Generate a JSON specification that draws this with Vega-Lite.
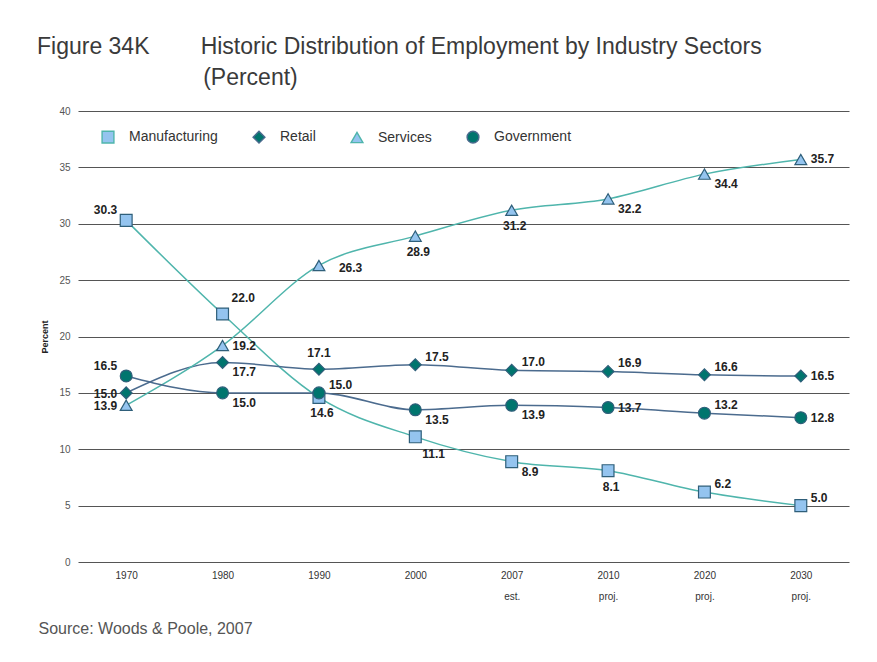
{
  "$schema": "https://vega.github.io/schema/vega-lite/v6.json",
  "autosize": "none",
  "width": 771,
  "height": 451,
  "padding": {"left": 78, "top": 111, "right": 28, "bottom": 100},
  "background": "white",
  "config": {
    "font": "Liberation Sans",
    "view": {"stroke": null},
    "legend": {
      "orient": "none", "legendX": 23, "legendY": 19,
      "direction": "horizontal", "columns": 4, "title": null,
      "symbolSize": 140, "symbolStrokeWidth": 1.4, "symbolOpacity": 1,
      "labelFont": "Liberation Sans", "labelFontSize": 14, "labelColor": "#333333",
      "labelOffset": 14, "columnPadding": 32
    }
  },
  "title": {
    "text": ["Figure 34K\u00a0\u00a0\u00a0\u00a0\u00a0\u00a0\u00a0\u00a0Historic Distribution of Employment by Industry Sectors", "\u200b\u00a0\u00a0\u00a0\u00a0\u00a0\u00a0\u00a0\u00a0\u00a0\u00a0\u00a0\u00a0\u00a0\u00a0\u00a0\u00a0\u00a0\u00a0\u00a0\u00a0\u00a0\u00a0\u00a0\u00a0\u00a0\u00a0(Percent)"],
    "anchor": "start",
    "frame": "group",
    "dx": -41,
    "offset": 16,
    "font": "Liberation Sans",
    "fontSize": 23,
    "fontWeight": "normal",
    "color": "#3a3a3a",
    "lineHeight": 31
  },
  "data": {
    "values": [
      {"series": "Manufacturing", "period": "1970", "value": 30.3},
      {"series": "Manufacturing", "period": "1980", "value": 22.0},
      {"series": "Manufacturing", "period": "1990", "value": 14.6},
      {"series": "Manufacturing", "period": "2000", "value": 11.1},
      {"series": "Manufacturing", "period": "2007 est.", "value": 8.9},
      {"series": "Manufacturing", "period": "2010 proj.", "value": 8.1},
      {"series": "Manufacturing", "period": "2020 proj.", "value": 6.2},
      {"series": "Manufacturing", "period": "2030 proj.", "value": 5.0},
      {"series": "Retail", "period": "1970", "value": 15.0},
      {"series": "Retail", "period": "1980", "value": 17.7},
      {"series": "Retail", "period": "1990", "value": 17.1},
      {"series": "Retail", "period": "2000", "value": 17.5},
      {"series": "Retail", "period": "2007 est.", "value": 17.0},
      {"series": "Retail", "period": "2010 proj.", "value": 16.9},
      {"series": "Retail", "period": "2020 proj.", "value": 16.6},
      {"series": "Retail", "period": "2030 proj.", "value": 16.5},
      {"series": "Services", "period": "1970", "value": 13.9},
      {"series": "Services", "period": "1980", "value": 19.2},
      {"series": "Services", "period": "1990", "value": 26.3},
      {"series": "Services", "period": "2000", "value": 28.9},
      {"series": "Services", "period": "2007 est.", "value": 31.2},
      {"series": "Services", "period": "2010 proj.", "value": 32.2},
      {"series": "Services", "period": "2020 proj.", "value": 34.4},
      {"series": "Services", "period": "2030 proj.", "value": 35.7},
      {"series": "Government", "period": "1970", "value": 16.5},
      {"series": "Government", "period": "1980", "value": 15.0},
      {"series": "Government", "period": "1990", "value": 15.0},
      {"series": "Government", "period": "2000", "value": 13.5},
      {"series": "Government", "period": "2007 est.", "value": 13.9},
      {"series": "Government", "period": "2010 proj.", "value": 13.7},
      {"series": "Government", "period": "2020 proj.", "value": 13.2},
      {"series": "Government", "period": "2030 proj.", "value": 12.8}
    ]
  },
  "encoding": {
    "x": {
      "field": "period", "type": "ordinal", "sort": null,
      "scale": {"type": "point", "padding": 0.5},
      "axis": {
        "labelExpr": "split(datum.label, ' ')",
        "labelAngle": 0,
        "labelFont": "Liberation Sans",
        "labelFontSize": 10,
        "labelColor": "#333333",
        "labelLineHeight": 21,
        "labelPadding": 8,
        "domain": false, "ticks": false, "grid": false,
        "title": "Source: Woods & Poole, 2007",
        "titleAnchor": "start", "titleAlign": "left",
        "titleX": -40, "titleY": 66, "titleBaseline": "middle",
        "titleFont": "Liberation Sans", "titleFontSize": 16,
        "titleFontWeight": "normal", "titleColor": "#555555"
      }
    },
    "y": {
      "field": "value", "type": "quantitative",
      "scale": {"domain": [0, 40], "nice": false},
      "axis": {
        "values": [0, 5, 10, 15, 20, 25, 30, 35, 40],
        "title": "Percent",
        "titleFont": "Liberation Sans", "titleFontSize": 9, "titleFontWeight": "bold", "titleColor": "#222222",
        "titlePadding": 9,
        "labelFontSize": 10, "labelColor": "#555555", "labelPadding": 8,
        "domain": false, "ticks": false,
        "grid": true, "gridColor": "#555555", "gridWidth": 1.1, "gridOpacity": 1
      }
    }
  },
  "layer": [
    {
      "mark": {"type": "line", "interpolate": "monotone", "strokeWidth": 1.5},
      "encoding": {
        "stroke": {
          "field": "series", "type": "nominal",
          "scale": {"domain": ["Manufacturing", "Retail", "Services", "Government"], "range": ["#4fb5ac", "#4b6b8e", "#4fb5ac", "#4b6b8e"]}
        }
      }
    },
    {
      "mark": {"type": "point", "filled": true, "opacity": 1, "stroke": "#2f5f7a", "strokeWidth": 1.2, "size": 140},
      "encoding": {
        "shape": {
          "field": "series", "type": "nominal",
          "scale": {"domain": ["Manufacturing", "Retail", "Services", "Government"], "range": ["square", "diamond", "triangle-up", "circle"]}
        },
        "color": {
          "field": "series", "type": "nominal",
          "scale": {"domain": ["Manufacturing", "Retail", "Services", "Government"], "range": ["#94c4ef", "#00756e", "#94c4ef", "#00756e"]}
        }
      }
    },
    {
      "transform": [{"filter": "indexof(['Retail|1970','Services|1970'], datum.series + '|' + substring(datum.period, 0, 4)) >= 0"}],
      "mark": {"type": "text", "align": "right", "baseline": "middle", "dx": -9, "dy": 1, "fontSize": 12, "fontWeight": "bold", "color": "#222222"},
      "encoding": {"text": {"field": "value", "type": "quantitative", "format": ".1f"}}
    },
    {
      "transform": [{"filter": "indexof(['Manufacturing|1970','Government|1970'], datum.series + '|' + substring(datum.period, 0, 4)) >= 0"}],
      "mark": {"type": "text", "align": "right", "baseline": "middle", "dx": -9, "dy": -10, "fontSize": 12, "fontWeight": "bold", "color": "#222222"},
      "encoding": {"text": {"field": "value", "type": "quantitative", "format": ".1f"}}
    },
    {
      "transform": [{"filter": "indexof(['Retail|2030','Services|1980','Services|2030','Government|2010','Government|2030'], datum.series + '|' + substring(datum.period, 0, 4)) >= 0"}],
      "mark": {"type": "text", "align": "left", "baseline": "middle", "dx": 10, "dy": 0, "fontSize": 12, "fontWeight": "bold", "color": "#222222"},
      "encoding": {"text": {"field": "value", "type": "quantitative", "format": ".1f"}}
    },
    {
      "transform": [{"filter": "indexof(['Services|1990'], datum.series + '|' + substring(datum.period, 0, 4)) >= 0"}],
      "mark": {"type": "text", "align": "left", "baseline": "middle", "dx": 20, "dy": 3, "fontSize": 12, "fontWeight": "bold", "color": "#222222"},
      "encoding": {"text": {"field": "value", "type": "quantitative", "format": ".1f"}}
    },
    {
      "transform": [{"filter": "indexof(['Manufacturing|2020','Manufacturing|2030','Retail|2000','Retail|2007','Retail|2010','Retail|2020','Government|1990','Government|2020'], datum.series + '|' + substring(datum.period, 0, 4)) >= 0"}],
      "mark": {"type": "text", "align": "left", "baseline": "middle", "dx": 10, "dy": -8, "fontSize": 12, "fontWeight": "bold", "color": "#222222"},
      "encoding": {"text": {"field": "value", "type": "quantitative", "format": ".1f"}}
    },
    {
      "transform": [{"filter": "indexof(['Manufacturing|1980'], datum.series + '|' + substring(datum.period, 0, 4)) >= 0"}],
      "mark": {"type": "text", "align": "left", "baseline": "middle", "dx": 9, "dy": -16, "fontSize": 12, "fontWeight": "bold", "color": "#222222"},
      "encoding": {"text": {"field": "value", "type": "quantitative", "format": ".1f"}}
    },
    {
      "transform": [{"filter": "indexof(['Manufacturing|2007','Retail|1980','Services|2010','Services|2020','Government|1980','Government|2000','Government|2007'], datum.series + '|' + substring(datum.period, 0, 4)) >= 0"}],
      "mark": {"type": "text", "align": "left", "baseline": "middle", "dx": 10, "dy": 10, "fontSize": 12, "fontWeight": "bold", "color": "#222222"},
      "encoding": {"text": {"field": "value", "type": "quantitative", "format": ".1f"}}
    },
    {
      "transform": [{"filter": "indexof(['Manufacturing|2000'], datum.series + '|' + substring(datum.period, 0, 4)) >= 0"}],
      "mark": {"type": "text", "align": "left", "baseline": "middle", "dx": 7, "dy": 17, "fontSize": 12, "fontWeight": "bold", "color": "#222222"},
      "encoding": {"text": {"field": "value", "type": "quantitative", "format": ".1f"}}
    },
    {
      "transform": [{"filter": "indexof(['Retail|1990'], datum.series + '|' + substring(datum.period, 0, 4)) >= 0"}],
      "mark": {"type": "text", "align": "center", "baseline": "middle", "dx": 0, "dy": -16, "fontSize": 12, "fontWeight": "bold", "color": "#222222"},
      "encoding": {"text": {"field": "value", "type": "quantitative", "format": ".1f"}}
    },
    {
      "transform": [{"filter": "indexof(['Manufacturing|1990','Manufacturing|2010','Services|2000','Services|2007'], datum.series + '|' + substring(datum.period, 0, 4)) >= 0"}],
      "mark": {"type": "text", "align": "center", "baseline": "middle", "dx": 3, "dy": 16, "fontSize": 12, "fontWeight": "bold", "color": "#222222"},
      "encoding": {"text": {"field": "value", "type": "quantitative", "format": ".1f"}}
    }
  ]
}
